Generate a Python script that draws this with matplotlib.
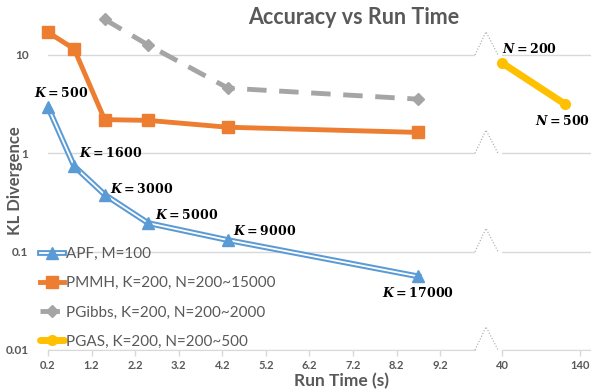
#!/usr/bin/env python3
"""
Accuracy vs run time: KL divergence of APF / PMMH / PGibbs / PGAS
on a broken x axis (0.2-10 s and 40-150 s).
"""

import matplotlib

matplotlib.use("Agg")
import matplotlib.pyplot as plt
import matplotlib.patheffects as pe
from matplotlib.lines import Line2D
from matplotlib.transforms import blended_transform_factory

# data
apf_t = [0.2, 0.8, 1.5, 2.5, 4.33, 8.7]
apf_kl = [2.95, 0.74, 0.38, 0.195, 0.131, 0.056]
apf_k = ["500", "1600", "3000", "5000", "9000", "17000"]

pmmh_t = [0.2, 0.8, 1.5, 2.5, 4.33, 8.7]
pmmh_kl = [17.0, 11.5, 2.2, 2.16, 1.84, 1.63]

pgibbs_t = [1.5, 2.5, 4.33, 8.7]
pgibbs_kl = [23.0, 12.6, 4.6, 3.55]

pgas_t = [40, 121]
pgas_kl = [8.3, 3.15]
pgas_n = ["200", "500"]

left_ticks = [0.2, 1.2, 2.2, 3.2, 4.2, 5.2, 6.2, 7.2, 8.2, 9.2]
right_ticks = [40, 140]
y_ticks = [0.01, 0.1, 1, 10]
y_ticklabels = ["0.01", "0.1", "1", "10"]

BLUE = "#5b9bd5"
ORANGE = "#ed7d31"
GRAY = "#a5a5a5"
YELLOW = "#ffc000"
TXT = "#595959"
GRID = "#d9d9d9"

plt.rcParams["font.family"] = ["Lato", "DejaVu Sans"]
plt.rcParams["mathtext.fontset"] = "custom"
plt.rcParams["mathtext.it"] = "DejaVu Serif:italic:bold"
plt.rcParams["mathtext.rm"] = "DejaVu Serif:bold"

W, H = 591, 392


def style_axis(ax, ticks, labels):
    ax.set_yscale("log")
    ax.set_ylim(0.01, 30)
    ax.set_yticks(y_ticks)
    ax.set_yticklabels(labels)
    ax.minorticks_off()
    ax.grid(True, axis="y", color=GRID, lw=1.0)
    for s in ["top", "right", "left"]:
        ax.spines[s].set_visible(False)
    ax.spines["bottom"].set_color(GRID)
    ax.set_xticks(ticks)
    ax.set_xticklabels([f"{t:g}" for t in ticks])
    ax.tick_params(axis="x", colors=GRID, length=4, width=1, labelcolor=TXT, labelsize=8)
    ax.tick_params(axis="y", length=0, pad=14, labelcolor=TXT, labelsize=8.5)
    for lab in ax.get_xticklabels() + ax.get_yticklabels():
        lab.set_fontweight("bold")
    ax.set_facecolor("none")


def main():
    fig = plt.figure(figsize=(W / 100, H / 100), dpi=100)
    ax1 = fig.add_axes([48 / W, 42 / H, 427 / W, 342 / H])
    ax2 = fig.add_axes([502 / W, 42 / H, 89 / W, 342 / H])

    style_axis(ax1, left_ticks, y_ticklabels)
    style_axis(ax2, right_ticks, [""] * len(y_ticks))
    ax1.set_xlim(0.2, 10.0)
    ax2.set_xlim(40, 154)

    # APF: double (compound) line, markers drawn separately
    dbl = [pe.Stroke(linewidth=4.2, foreground=BLUE), pe.Normal()]
    (apf_line,) = ax1.plot(apf_t, apf_kl, color="white", lw=1.3,
                           path_effects=dbl, zorder=4)
    (apf_mark,) = ax1.plot(apf_t, apf_kl, ls="none", marker="^", ms=8,
                           color=BLUE, zorder=5, clip_on=False)
    (pmmh_line,) = ax1.plot(pmmh_t, pmmh_kl, color=ORANGE, lw=3.5, marker="s", ms=9,
                            zorder=3, clip_on=False)
    (pgibbs_line,) = ax1.plot(pgibbs_t, pgibbs_kl, color=GRAY, lw=3.5,
                              ls=(0, (4, 2.6)), marker="D", ms=6, zorder=3,
                              clip_on=False)
    (pgas_line,) = ax2.plot(pgas_t, pgas_kl, color=YELLOW, lw=5, marker="o", ms=7,
                            solid_capstyle="round", clip_on=False, zorder=3)

    # labels on points
    ann = dict(textcoords="offset pixels", fontsize=9, color="black", va="center")
    offs = [(13, 15, "center"), (5, 14, "left"), (5, 7, "left"),
            (7, 9, "left"), (5, 10, "left"), (0, -16, "center")]
    for t, v, k, (dx, dy, ha) in zip(apf_t, apf_kl, apf_k, offs):
        ax1.annotate(f"$K = {k}$", (t, v), xytext=(dx, dy), ha=ha, **ann)
    for t, v, n, (dx, dy, ha) in zip(pgas_t, pgas_kl, pgas_n,
                                     [(0, 15, "left"), (-3, -16, "center")]):
        ax2.annotate(f"$N = {n}$", (t, v), xytext=(dx, dy), ha=ha,
                     annotation_clip=False, **ann)

    handles = [(apf_line, apf_mark), pmmh_line, pgibbs_line, pgas_line]
    labels = ["APF, M=100", "PMMH, K=200, N=200~15000",
              "PGibbs, K=200, N=200~2000", "PGAS, K=200, N=200~500"]
    leg = fig.legend(handles, labels, loc="upper left",
                     bbox_to_anchor=(40 / W, 1 - 247 / H), frameon=False,
                     fontsize=11, handlelength=1.6, handletextpad=0.1,
                     labelspacing=1.0, borderaxespad=0, borderpad=0)
    for txt in leg.get_texts():
        txt.set_color(TXT)

    # axis break markers
    tr = blended_transform_factory(fig.transFigure, ax1.transData)
    for v in y_ticks:
        fig.add_artist(Line2D([475 / W, 486 / W, 498 / W], [v, v * 1.72, v],
                              transform=tr, color="#a6a6a6", lw=0.8, ls=":"))

    fig.text(354 / W, 1 - 17 / H, "Accuracy vs Run Time", ha="center", va="center",
             fontsize=15.5, fontweight="bold", color=TXT)
    fig.text(342 / W, 1 - 381 / H, "Run Time (s)", ha="center", va="center",
             fontsize=12.5, fontweight="bold", color=TXT)
    fig.text(15 / W, 1 - 181 / H, "KL Divergence", ha="center", va="center",
             rotation=90, fontsize=12, fontweight="bold", color=TXT)

    fig.savefig("out.png", dpi=100)


if __name__ == "__main__":
    main()
